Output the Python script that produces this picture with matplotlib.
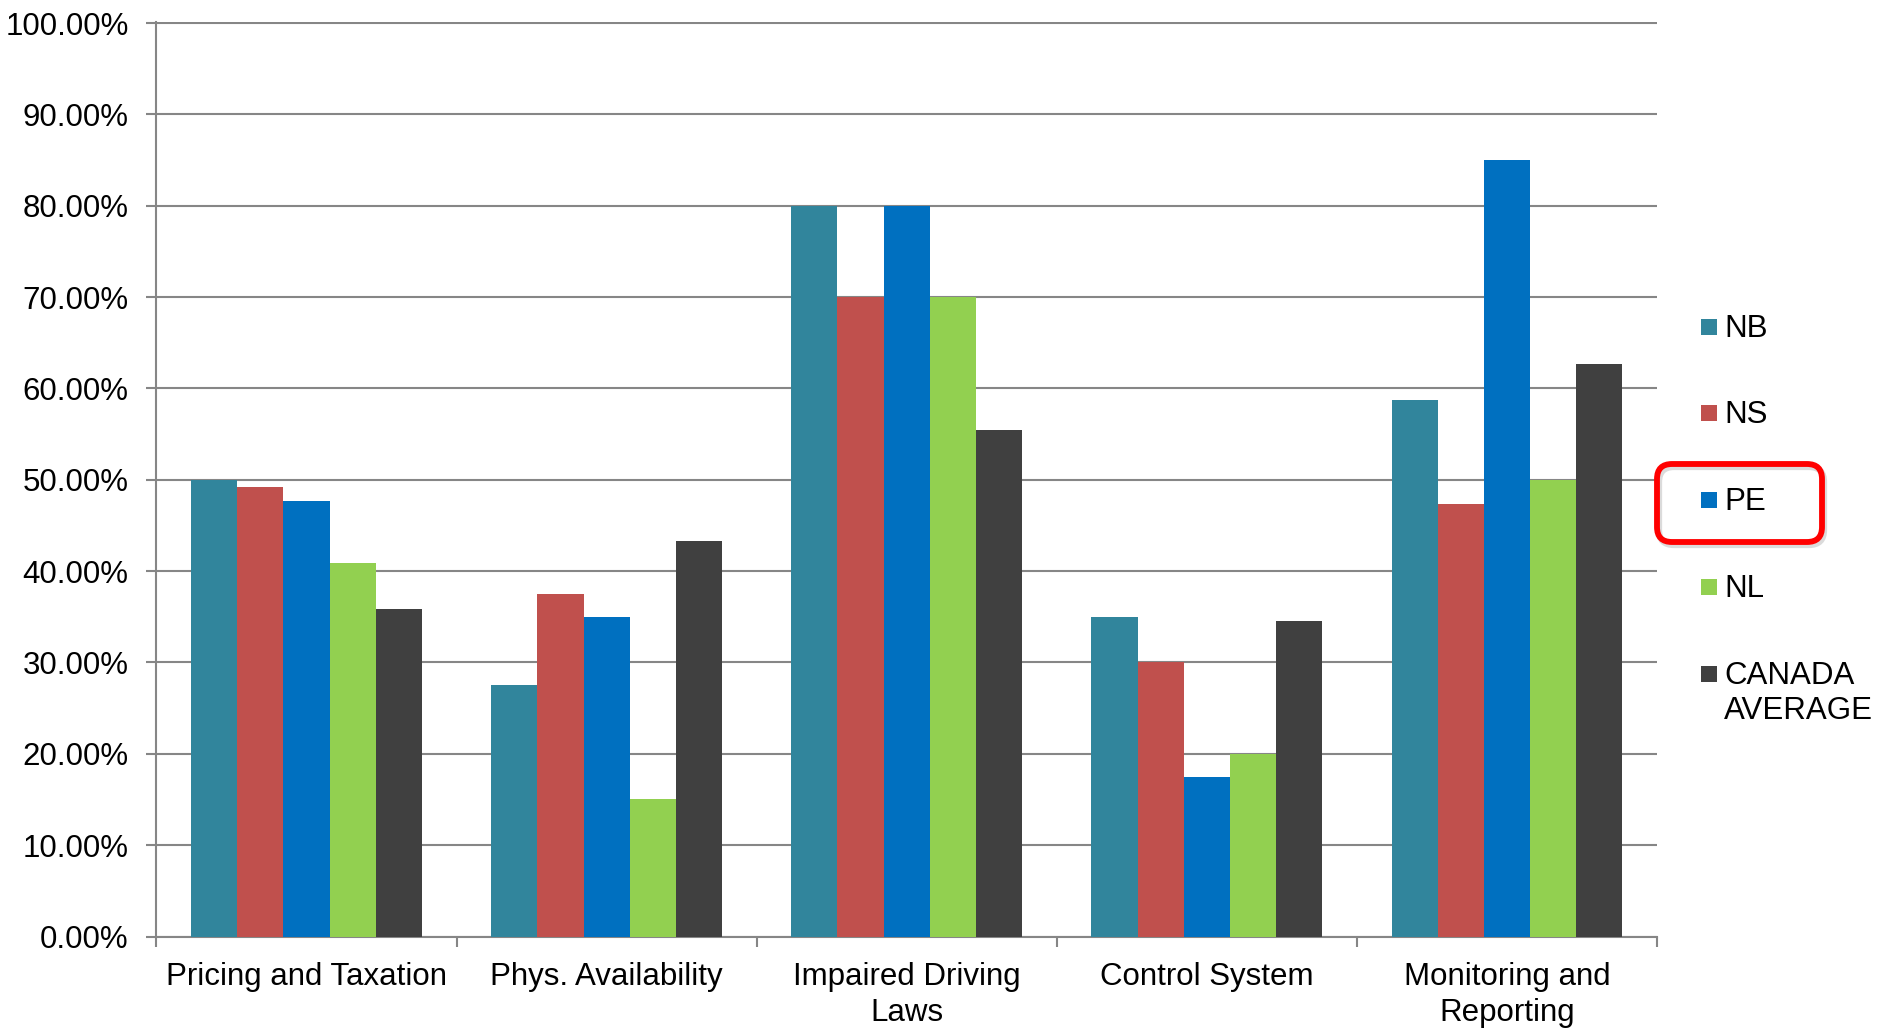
import numpy as np
import matplotlib
matplotlib.use("Agg")
import matplotlib.pyplot as plt
from matplotlib.patches import Rectangle, FancyBboxPatch
from matplotlib.ticker import PercentFormatter, FixedLocator

# ---- data ----
categories = ["Pricing and Taxation", "Phys. Availability", "Impaired Driving\nLaws",
              "Control System", "Monitoring and\nReporting"]
series_names = ["NB", "NS", "PE", "NL", "CANADA\nAVERAGE"]
nb = [0.500, 0.275, 0.800, 0.350, 0.587]
ns = [0.492, 0.375, 0.700, 0.300, 0.474]
pe = [0.477, 0.350, 0.800, 0.175, 0.850]
nl = [0.409, 0.150, 0.700, 0.200, 0.500]
canada_avg = [0.358, 0.433, 0.554, 0.345, 0.627]
series_values = [nb, ns, pe, nl, canada_avg]
series_colors = ["#31859C", "#C0504D", "#0070C0", "#92D050", "#404040"]

plt.rcParams["font.family"] = ["Liberation Sans", "DejaVu Sans"]
FS = 22.5
GRID = "#868686"

W, H = 1883, 1030
fig = plt.figure(figsize=(W / 100, H / 100), dpi=100)
left, right, top, bottom = 156.5, 1657, 21.7, 936.5
ax = fig.add_axes([left / W, (H - bottom) / H, (right - left) / W, (bottom - top) / H])

x = np.arange(len(categories))
bw = 1 / 6.5
for i, (vals, col) in enumerate(zip(series_values, series_colors)):
    ax.bar(x + (i - 2) * bw, vals, width=bw, color=col, edgecolor="none", zorder=3)

ax.set_xlim(-0.5, len(categories) - 0.5)
ax.set_ylim(0, 1.0015)

# y axis
ax.set_yticks(np.arange(0, 1.0001, 0.1))
ax.yaxis.set_major_formatter(PercentFormatter(1.0, decimals=2))
ax.yaxis.grid(True, color=GRID, linewidth=1.5, zorder=0)
ax.set_axisbelow(True)
ax.tick_params(axis="y", direction="out", length=7, width=1.5, color=GRID,
               labelsize=FS, pad=13, labelcolor="black")

# x axis: ticks at category boundaries, labels at centres
ax.xaxis.set_major_locator(FixedLocator(np.arange(-0.5, len(categories), 1.0)))
ax.xaxis.set_minor_locator(FixedLocator(x))
ax.set_xticklabels([], minor=False)
ax.set_xticklabels(categories, minor=True, fontsize=FS, linespacing=1.3)
ax.tick_params(axis="x", which="major", direction="out", length=7, width=1.5, color=GRID)
ax.tick_params(axis="x", which="minor", length=0, pad=18, labelcolor="black")

for s in ("top", "right"):
    ax.spines[s].set_visible(False)
for s in ("left", "bottom"):
    ax.spines[s].set_color(GRID)
    ax.spines[s].set_linewidth(1.5)

# legend (pixel layout via inch transform)
tr = fig.dpi_scale_trans
def px(xp, yp):
    return xp / 100, (H - yp) / 100

legend_y = [327, 413, 500, 587, 674]
for name, col, yc in zip(series_names, series_colors, legend_y):
    x0, y0 = px(1701, yc + 8)
    fig.add_artist(Rectangle((x0, y0), 0.16, 0.16, transform=tr, color=col, linewidth=0))
    tx, ty = px(1724, yc - 13)
    fig.text(tx, ty, name, transform=tr, fontsize=FS, va="top", ha="left",
             linespacing=1.22)

# highlight box around PE
bx0, by0 = px(1657, 542)
bw_in, bh_in = (1822 - 1657) / 100, (542 - 464) / 100
shadow = FancyBboxPatch((bx0 + 0.02, by0 - 0.03), bw_in, bh_in,
                        boxstyle="round,pad=0,rounding_size=0.15", transform=tr,
                        facecolor="none", edgecolor="#999999", linewidth=4.5, alpha=0.35)
fig.add_artist(shadow)
box = FancyBboxPatch((bx0, by0), bw_in, bh_in,
                     boxstyle="round,pad=0,rounding_size=0.15", transform=tr,
                     facecolor="none", edgecolor="#FF0000", linewidth=4.2)
fig.add_artist(box)

fig.savefig("out.png", dpi=100, facecolor="white")
